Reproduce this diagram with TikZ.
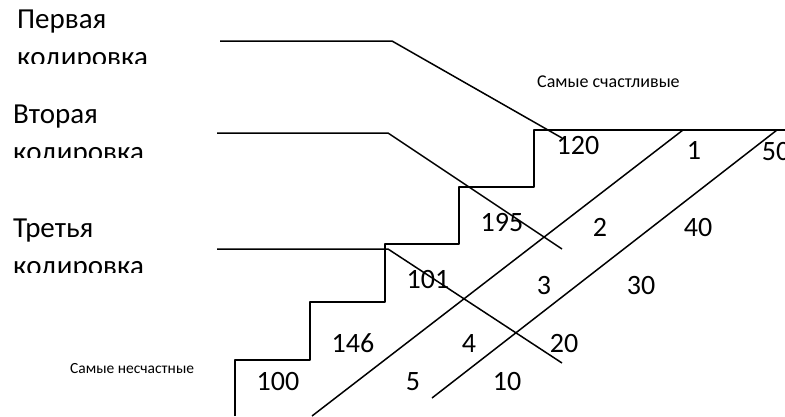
\documentclass[tikz,border=0pt]{standalone}
\usepackage{fontspec}
\setmainfont{Carlito}
\usepackage{tikz}
\usetikzlibrary{positioning}

\tikzstyle{num}=[%
      inner sep=0pt, anchor=base, font=\fontsize{28}{34}\selectfont
]
\tikzstyle{lbl}=[%
      inner sep=0pt, anchor=base west, font=\fontsize{29}{35}\selectfont
]
\tikzstyle{note}=[%
      inner sep=0pt, anchor=base west
]
\tikzstyle{ln}=[%
      line width=1.5pt, line join=round
]

\begin{document}
\begin{tikzpicture}[x=1pt, y=-1pt]
  \useasboundingbox (0,0) rectangle (785,416);

  % left labels, the second line is cut off
  \begin{scope}
    \clip (0,0) rectangle (215,63);
    \node[lbl] (first)  at (17,28)   {Первая};
    \node[lbl] (firstb) at (17,66.5) {кодировка};
  \end{scope}
  \begin{scope}
    \clip (0,90) rectangle (215,157);
    \node[lbl] (second)  at (13,123)   {Вторая};
    \node[lbl] (secondb) at (13,161.5) {кодировка};
  \end{scope}
  \begin{scope}
    \clip (0,200) rectangle (215,272);
    \node[lbl] (third)  at (13,237)   {Третья};
    \node[lbl] (thirdb) at (13,275.5) {кодировка};
  \end{scope}

  \node[note, font=\fontsize{18}{22}\selectfont] (happy)   at (537,87)  {Самые счастливые};
  \node[note, font=\fontsize{15.5}{19}\selectfont] (unhappy) at (70,373) {Самые несчастные};

  % stairs
  \draw[ln] (235,416) |- (310,360) |- (385,302) |- (459,244) |- (534,187) |- (785,130);

  % coding lines
  \coordinate (f0) at (220,41);  \coordinate (f1) at (392,41);  \coordinate (f2) at (562,138);
  \coordinate (s0) at (217,133); \coordinate (s1) at (388,133); \coordinate (s2) at (562,249);
  \coordinate (t0) at (217,249); \coordinate (t1) at (388,249); \coordinate (t2) at (562,363);
  \draw[ln] (f0) -- (f1) -- (f2);
  \draw[ln] (s0) -- (s1) -- (s2);
  \draw[ln] (t0) -- (t1) -- (t2);

  % diagonals
  \coordinate (a1) at (683,130); \coordinate (a2) at (312,416);
  \coordinate (b1) at (777,130); \coordinate (b2) at (432,398);
  \draw[ln] (a1) -- (a2);
  \draw[ln] (b1) -- (b2);

  % numbers
  \node[num] (n120) at (578,154) {120};
  \node[num] (n1)   at (694,159) {1};
  \node[num] (n50)  at (776,160) {50};
  \node[num] (n195) at (502,231) {195};
  \node[num] (n2)   at (600,236) {2};
  \node[num] (n40)  at (698,236) {40};
  \node[num] (n101) at (428,288) {101};
  \node[num] (n3)   at (544,294) {3};
  \node[num] (n30)  at (641,294) {30};
  \node[num] (n146) at (353,352) {146};
  \node[num] (n4)   at (469,352) {4};
  \node[num] (n20)  at (564,352) {20};
  \node[num] (n100) at (278,390) {100};
  \node[num] (n5)   at (413,390) {5};
  \node[num] (n10)  at (507,390) {10};
\end{tikzpicture}
\end{document}
